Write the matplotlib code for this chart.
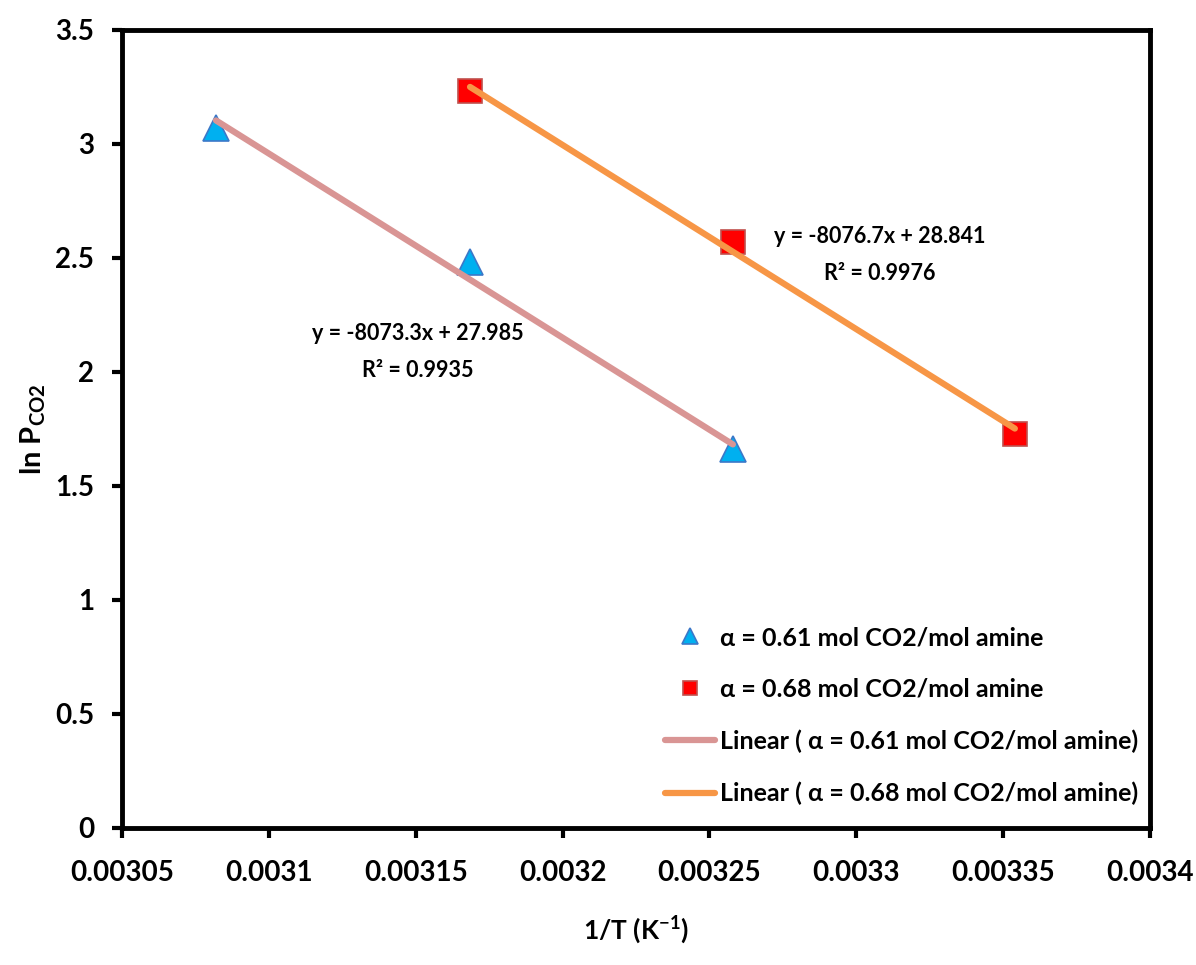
import numpy as np
import matplotlib
matplotlib.use("Agg")
import matplotlib.pyplot as plt
from matplotlib.ticker import FuncFormatter, MultipleLocator

plt.rcParams['font.family'] = ['Lato', 'DejaVu Sans']
plt.rcParams['font.weight'] = 'bold'
plt.rcParams['mathtext.default'] = 'regular'

# data
inv_t_61 = [0.003082, 0.0031685, 0.003258]
ln_p_61 = [3.07, 2.48, 1.66]
inv_t_68 = [0.0031685, 0.003258, 0.003354]
ln_p_68 = [3.23, 2.57, 1.73]

# trendline coefficients shown on the chart
fit_61 = [-8073.3, 27.985]
fit_68 = [-8076.7, 28.841]
r2_61 = 0.9935
r2_68 = 0.9976

label_61 = 'α = 0.61 mol CO2/mol amine'
label_68 = 'α = 0.68 mol CO2/mol amine'

fig = plt.figure(figsize=(11.96, 9.65), dpi=100)
ax = fig.add_axes([0.102, 0.142, 0.8595, 0.827])

ax.plot(inv_t_61, ln_p_61, linestyle='none', marker='^', ms=19,
        mfc='#00B0F0', mec='#3C78C8', mew=1.2, label=label_61, zorder=3)
ax.plot(inv_t_68, ln_p_68, linestyle='none', marker='s', ms=17,
        mfc='#FF0000', mec='#C0504D', mew=1.2, label=label_68, zorder=3)

x61 = np.array([inv_t_61[0], inv_t_61[-1]])
x68 = np.array([inv_t_68[0], inv_t_68[-1]])
ax.plot(x61, np.polyval(fit_61, x61), color='#D99594', lw=4.5,
        solid_capstyle='round', label='Linear ( ' + label_61 + ')', zorder=4)
ax.plot(x68, np.polyval(fit_68, x68), color='#F79646', lw=4.5,
        solid_capstyle='round', label='Linear ( ' + label_68 + ')', zorder=4)

ax.text(0.0031508, 2.088, 'y = %.1fx + %.3f\nR² = %.4f' % (fit_61[0], fit_61[1], r2_61),
        ha='center', va='center', fontsize=15.5, fontweight='bold', linespacing=1.9)
ax.text(0.003308, 2.513, 'y = %.1fx + %.3f\nR² = %.4f' % (fit_68[0], fit_68[1], r2_68),
        ha='center', va='center', fontsize=15.5, fontweight='bold', linespacing=1.9)

ax.set_xlim(0.00305, 0.0034)
ax.set_ylim(0, 3.5)
ax.xaxis.set_major_locator(MultipleLocator(0.00005))
ax.yaxis.set_major_locator(MultipleLocator(0.5))
ax.xaxis.set_major_formatter(FuncFormatter(lambda v, p: '%g' % round(v, 6)))
ax.yaxis.set_major_formatter(FuncFormatter(lambda v, p: '%g' % round(v, 2)))

for s in ax.spines.values():
    s.set_linewidth(3.5)
ax.tick_params(direction='out', length=7, width=3, labelsize=20)
ax.tick_params(axis='x', pad=16)
ax.tick_params(axis='y', pad=13)
for lab in ax.get_xticklabels() + ax.get_yticklabels():
    lab.set_fontweight('bold')

ax.set_xlabel('1/T (K$^{-1}$)', fontsize=19, fontweight='bold', labelpad=20)
ax.set_ylabel('ln P$_{CO2}$', fontsize=21, fontweight='bold', labelpad=5)

leg = ax.legend(loc='lower right', bbox_to_anchor=(1.01, 0.0), frameon=False,
                fontsize=18, markerscale=0.6, labelspacing=1.15,
                handlelength=2.0, handletextpad=0.2)
for t in leg.get_texts():
    t.set_fontweight('bold')

fig.savefig('out.png', dpi=100)
